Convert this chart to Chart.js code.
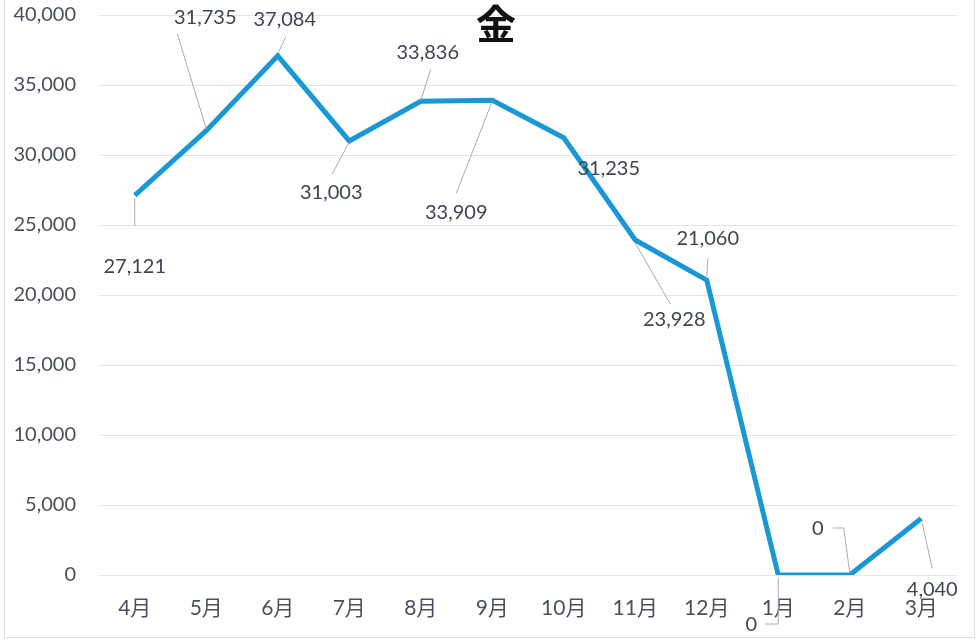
<!DOCTYPE html>
<html>
<head>
<meta charset="utf-8">
<script src="https://cdn.jsdelivr.net/npm/chart.js@4/dist/chart.umd.min.js"></script>
<style>
  html, body { margin: 0; padding: 0; background: #fff; }
  #wrap { width: 976px; height: 641px; }
</style>
</head>
<body>
<div id="wrap"><canvas id="goldChart"></canvas></div>
<script>
const months = ["4月", "5月", "6月", "7月", "8月", "9月", "10月", "11月", "12月", "1月", "2月", "3月"];
const values = [27121, 31735, 37084, 31003, 33836, 33909, 31235, 23928, 21060, 0, 0, 4040];
const yTicks = [0, 5000, 10000, 15000, 20000, 25000, 30000, 35000, 40000];
const chartTitle = "金";

// label offset from the point, and leader line points (relative to the point)
const labelOffsets = [
  { dx: 0, dy: 71, lead: [[0, 3], [0, 31]] },
  { dx: -1, dy: -113, lead: [[0, -2], [-29, -97]] },
  { dx: 7, dy: -36, lead: [[1, -4], [8, -19]] },
  { dx: -18, dy: 52, lead: [[0, 1], [-17, 33]] },
  { dx: 7, dy: -49, lead: [[0, -1], [10, -32]] },
  { dx: -36, dy: 112, lead: [[0, 1], [-36, 93]] },
  { dx: 45, dy: 31, lead: null },
  { dx: 39, dy: 80, lead: [[0, 3], [35, 64]] },
  { dx: 1, dy: -42, lead: [[1, -22], [0, -2]] },
  { dx: -27, dy: 50, lead: [[0, 3], [0, 49], [-13, 49]] },
  { dx: -32, dy: -46, lead: [[-17, -47], [-6, -47], [0, -2]] },
  { dx: 11, dy: 71, lead: [[1, 5], [11, 50]] }
];

const fmt = v => v.toLocaleString("en-US");

const labelPlugin = {
  id: "pointLabels",
  afterDatasetsDraw(chart) {
    const ctx = chart.ctx;
    const meta = chart.getDatasetMeta(0);
    ctx.save();
    meta.data.forEach((pt, i) => {
      const o = labelOffsets[i];
      if (o.lead) {
        ctx.strokeStyle = "#a9abb0";
        ctx.lineWidth = 1;
        ctx.beginPath();
        o.lead.forEach((p, k) => {
          const x = pt.x + p[0], y = pt.y + p[1];
          if (k === 0) ctx.moveTo(x, y); else ctx.lineTo(x, y);
        });
        ctx.stroke();
      }
      ctx.fillStyle = "#3f4451";
      ctx.font = "20px Lato";
      ctx.textAlign = "center";
      ctx.textBaseline = "middle";
      ctx.fillText(fmt(values[i]), pt.x + o.dx, pt.y + o.dy);
    });
    // title drawn over the plot
    ctx.fillStyle = "#111";
    ctx.font = "bold 40px 'Noto Sans CJK JP'";
    ctx.textAlign = "center";
    ctx.textBaseline = "middle";
    ctx.fillText(chartTitle, 496, 24);
    // outer frame
    ctx.strokeStyle = "#dcdde0";
    ctx.lineWidth = 1;
    ctx.strokeRect(4.5, -1, 970, 638.5);
    ctx.restore();
  }
};

document.addEventListener("DOMContentLoaded", function () {
  const ctx = document.getElementById("goldChart").getContext("2d");

  new Chart(ctx, {
    type: "line",
    data: {
      labels: months,
      datasets: [
        {
          label: chartTitle,
          data: values,
          borderColor: "#1a98d6",
          borderWidth: 5,
          tension: 0,
          pointRadius: 0,
          fill: false
        }
      ]
    },
    options: {
      responsive: true,
      maintainAspectRatio: false,
      animation: false,
      layout: {
        autoPadding: false,
        padding: { left: 0, right: 19, top: 15, bottom: 0 }
      },
      plugins: {
        legend: { display: false },
        tooltip: { enabled: false },
        title: { display: false }
      },
      scales: {
        x: {
          offset: true,
          grid: { display: false, drawTicks: false },
          border: { display: false },
          ticks: {
            color: "#4b505c",
            padding: 21,
            maxRotation: 0,
            font: { family: "Lato, 'Noto Sans CJK JP'", size: 21 }
          },
          afterFit(scale) { scale.height = 66; scale.paddingLeft = 0; scale.paddingRight = 0; }
        },
        y: {
          min: 0,
          max: 40000,
          afterBuildTicks(scale) { scale.ticks = yTicks.map(v => ({ value: v })); },
          grid: { color: "#e3e4e8", lineWidth: 1, drawTicks: false },
          border: { display: false },
          ticks: {
            color: "#4a4f5b",
            padding: 23,
            font: { family: "Lato", size: 20 },
            callback: v => fmt(v)
          },
          afterFit(scale) { scale.width = 99; scale.paddingTop = 0; scale.paddingBottom = 0; }
        }
      }
    },
    plugins: [labelPlugin]
  });
});
</script>
</body>
</html>
